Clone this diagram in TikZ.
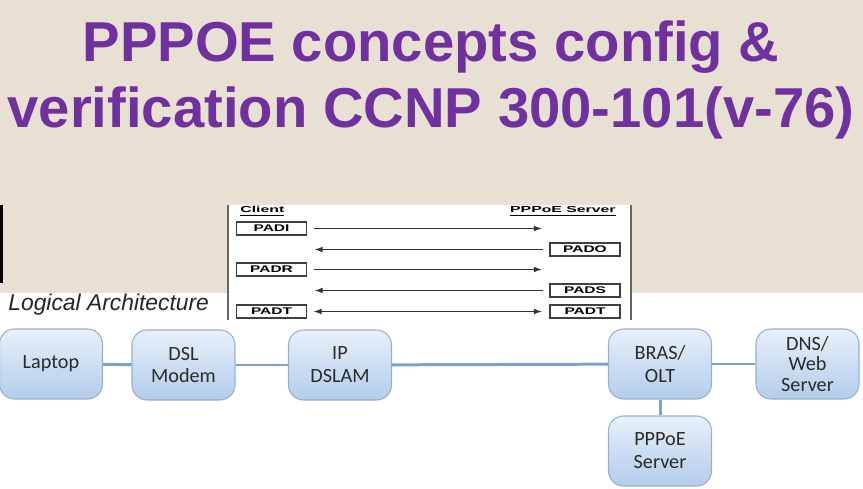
\documentclass[tikz,border=0pt]{standalone}
\usepackage{fontspec}
\usepackage{tikz}
\usetikzlibrary{arrows.meta, positioning}
\newfontfamily\arialfont{Liberation Sans}
\newfontfamily\calfont{Carlito}
\definecolor{titulo}{HTML}{7030A0}
\definecolor{beige}{HTML}{E8E1D3}
\definecolor{cajaborde}{HTML}{93B1D6}
\definecolor{cajaarriba}{HTML}{E8F0FA}
\definecolor{cajaabajo}{HTML}{B3CCEB}
\definecolor{enlace}{HTML}{7AA2CF}
\definecolor{textocaja}{HTML}{2B2B2B}
\newcommand{\ancho}[2][1.6]{\scalebox{#1}[1]{#2}}

\begin{document}
\begin{tikzpicture}[
  x=0.2mm, y=-0.2mm,
  equipo/.style={rectangle, rounded corners=3mm, draw=cajaborde, line width=0.6pt,
    top color=cajaarriba, bottom color=cajaabajo, minimum width=20.6mm,
    minimum height=14mm, align=center, text=textocaja,
    font=\calfont\fontsize{11.5}{13}\selectfont},
  enl/.style={enlace, line width=1.7pt},
  msgcaja/.style={rectangle, draw=black!75, line width=0.6pt, fill=white,
    minimum width=14mm, minimum height=2.6mm, inner sep=0pt,
    font=\arialfont\bfseries\fontsize{5.5}{6}\selectfont},
  punta/.tip={Latex[length=1.6mm,width=1.1mm]},
  msg/.style={-punta, black!80, line width=0.5pt,
    shorten <=1.3mm, shorten >=1.5mm},
  cab/.style={inner sep=0pt, font=\arialfont\bfseries\fontsize{5}{6}\selectfont},
]
\useasboundingbox (0,0) rectangle (863,489);

% --- Fondos ---
\fill[beige] (0,0) rectangle (863,489);
\fill[white] (0,293) rectangle (863,489);
\fill[white] (228,205) rectangle (632,320);
\fill[black] (0,205) rectangle (3,283);
\draw[black!60, line width=0.8pt] (228,205) -- (228,320);
\draw[black!60, line width=0.8pt] (631,205) -- (631,320);

% --- Titulo ---
\node[anchor=base, text=titulo, inner sep=0pt, font=\arialfont\bfseries\fontsize{32}{36}\selectfont]
  (tit1) at (431,62) {PPPOE concepts config \&};
\node[anchor=base, text=titulo, inner sep=0pt, font=\arialfont\bfseries\fontsize{32}{36}\selectfont]
  (tit2) at (431,128) {verification CCNP 300-101(v-76)};

% --- Secuencia PPPoE ---
\node[cab, anchor=base west] (cliente) at (240,213) {\ancho[1.8]{\underline{Client}}};
\node[cab, anchor=base east] (servidor) at (616,213) {\ancho[1.8]{\underline{PPPoE Server}}};

\node[msgcaja] (padi) at (271.5,228.5) {\ancho{PADI}};
\node[msgcaja] (pado) at (585,249.5) {\ancho{PADO}};
\node[msgcaja] (padr) at (271.5,269.5) {\ancho{PADR}};
\node[msgcaja] (pads) at (585,290.5) {\ancho{PADS}};
\node[msgcaja] (padtc) at (271.5,311.5) {\ancho{PADT}};
\node[msgcaja] (padts) at (585,311.5) {\ancho{PADT}};

\draw[msg] (padi.east) -- (padi.east -| pado.west);
\draw[msg] (pado.west) -- (pado.west -| padi.east);
\draw[msg] (padr.east) -- (padr.east -| pads.west);
\draw[msg] (pads.west) -- (pads.west -| padr.east);
\draw[msg, punta-punta] (padtc.east) -- (padts.west);

% --- Arquitectura logica ---
\node[anchor=base west, inner sep=0pt, text=black!85, font=\arialfont\itshape\fontsize{13}{15}\selectfont]
  (titarq) at (8,311) {Logical Architecture};

\node[equipo] (laptop) at (51,364) {Laptop};
\node[equipo] (modem) at (183.5,365) {DSL\\Modem};
\node[equipo] (dslam) at (340,365) {IP\\DSLAM};
\node[equipo] (bras) at (660,364) {BRAS/\\OLT};
\node[equipo, font=\calfont\fontsize{11.5}{11.5}\selectfont] (dns) at (807.5,364) {DNS/\\Web\\Server};
\node[equipo] (pppoe) at (660,451) {PPPoE\\Server};

\draw[enl] (laptop) -- (modem);
\draw[enl] (modem) -- (dslam);
\draw[enl] (dslam) -- (bras);
\draw[enl] (bras) -- (dns);
\draw[enl] (bras) -- (pppoe);

\end{tikzpicture}
\end{document}
